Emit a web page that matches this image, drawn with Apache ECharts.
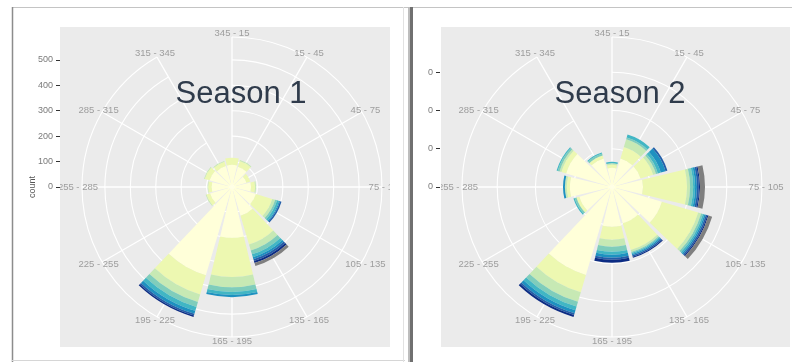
<!DOCTYPE html>
<html>
<head>
<meta charset="utf-8">
<script src="https://cdn.jsdelivr.net/npm/echarts@6/dist/echarts.min.js"></script>
<style>
  html, body { margin: 0; padding: 0; background: #ffffff; }
  #chart { width: 792px; height: 362px; }
</style>
</head>
<body>
<div id="chart"></div>
<script>
// Wind direction sectors, clockwise from north
const directions = ['345 - 15', '15 - 45', '45 - 75', '75 - 105', '105 - 135', '135 - 165',
                    '165 - 195', '195 - 225', '225 - 255', '255 - 285', '285 - 315', '315 - 345'];

// Speed classes (inner to outer) and their YlGnBu colours; the last class is missing speed
const speedClasses = ['0-2', '2-4', '4-6', '6-8', '8-10', '10-12', '12-14', '14+', 'NA'];
const speedColors = ['#ffffd9', '#edf8b1', '#c7e9b4', '#7fcdbb', '#41b6c4', '#1d91c0', '#225ea8', '#0c2c84', '#7f7f7f'];

// Season 1: counts per direction for each speed class
const season1Speed1 = [87, 83, 59, 75, 98, 118, 200, 362, 90, 80, 92, 86];
const season1Speed2 = [28, 24, 16, 16, 67, 118, 154, 79, 15, 14, 20, 18];
const season1Speed3 = [0, 4, 0, 4, 12, 24, 40, 31, 3, 2, 3, 3];
const season1Speed4 = [0, 0, 0, 0, 8, 16, 19, 20, 0, 0, 0, 0];
const season1Speed5 = [0, 0, 0, 0, 8, 12, 12, 16, 0, 0, 0, 0];
const season1Speed6 = [0, 0, 0, 0, 4, 8, 8, 12, 0, 0, 0, 0];
const season1Speed7 = [0, 0, 0, 0, 6, 8, 0, 7, 0, 0, 0, 0];
const season1Speed8 = [0, 0, 0, 0, 0, 8, 0, 6, 0, 0, 0, 0];
const season1Speed9 = [0, 0, 0, 0, 0, 12, 0, 0, 0, 0, 0, 0];

// Season 2: share of observations per direction for each speed class
const season2Speed1 = [0.050, 0.078, 0.078, 0.081, 0.136, 0.099, 0.104, 0.240, 0.089, 0.110, 0.125, 0.078];
const season2Speed2 = [0.008, 0.031, 0.034, 0.115, 0.099, 0.073, 0.034, 0.047, 0.008, 0.008, 0.013, 0.008];
const season2Speed3 = [0.004, 0.021, 0.008, 0.008, 0.008, 0.005, 0.018, 0.026, 0, 0.005, 0.005, 0];
const season2Speed4 = [0, 0.005, 0.005, 0.008, 0.005, 0.003, 0.013, 0.013, 0.005, 0, 0.005, 0.005];
const season2Speed5 = [0.004, 0.008, 0.008, 0.005, 0.004, 0.003, 0.008, 0.010, 0.003, 0, 0.003, 0.003];
const season2Speed6 = [0, 0, 0.013, 0.005, 0.004, 0.003, 0.008, 0.008, 0, 0.005, 0, 0];
const season2Speed7 = [0, 0, 0.005, 0.005, 0.004, 0.004, 0.005, 0.005, 0, 0, 0, 0];
const season2Speed8 = [0, 0, 0, 0.003, 0.003, 0.003, 0.008, 0.005, 0, 0, 0, 0];
const season2Speed9 = [0, 0, 0, 0.013, 0.010, 0, 0, 0, 0, 0, 0, 0];

// Radial tick values shown on the left of each panel
const season1Ticks = [0, 100, 200, 300, 400, 500];
const season2Ticks = [0, 0.1, 0.2, 0.3];

const panels = [
  {
    title: 'Season 1', center: [232, 187], radialMax: 590, ticks: season1Ticks,
    bins: [season1Speed1, season1Speed2, season1Speed3, season1Speed4, season1Speed5,
           season1Speed6, season1Speed7, season1Speed8, season1Speed9],
    panelBox: [60, 27, 330, 320], titleX: 241
  },
  {
    title: 'Season 2', center: [612, 187], radialMax: 0.392, ticks: season2Ticks,
    bins: [season2Speed1, season2Speed2, season2Speed3, season2Speed4, season2Speed5,
           season2Speed6, season2Speed7, season2Speed8, season2Speed9],
    panelBox: [440, 27, 350, 320], titleX: 620
  }
];

const RADIUS = 150;           // outer ring radius in px
const LABEL_RING = 1.027;     // direction labels sit just outside the outer ring
const FONT = 'Liberation Sans, Arial, sans-serif';

const chart = echarts.init(document.getElementById('chart'), null, { renderer: 'canvas' });

const polar = [], angleAxis = [], radiusAxis = [], grid = [], xAxis = [], yAxis = [], series = [];

panels.forEach((p, i) => {
  const step = p.ticks[1] - p.ticks[0];
  const tickMax = p.ticks[p.ticks.length - 1];

  polar.push({ center: p.center, radius: [0, RADIUS] });
  angleAxis.push({
    polarIndex: i, type: 'category', data: directions, boundaryGap: false,
    startAngle: 90, clockwise: true,
    axisLine: { show: false }, axisTick: { show: false }, axisLabel: { show: false },
    splitLine: { show: true, lineStyle: { color: '#ffffff', width: 1.3 } }
  });
  radiusAxis.push({
    polarIndex: i, type: 'value', min: 0, max: p.radialMax, interval: step,
    axisLine: { show: false }, axisTick: { show: false }, axisLabel: { show: false },
    splitLine: { show: true, lineStyle: { color: '#ffffff', width: 1.1 } }
  });

  // Left-hand radial scale: a plain value axis spanning centre to the last tick
  const h = RADIUS * tickMax / p.radialMax;
  grid.push({ left: p.panelBox[0], top: p.center[1] - h, height: h, width: 10 });
  xAxis.push({ gridIndex: i, type: 'value', show: false });
  yAxis.push({
    gridIndex: i, type: 'value', min: 0, max: tickMax, interval: step, z: 60,
    axisLine: { show: false },
    axisTick: { show: true, length: 4, lineStyle: { color: '#333333', width: 1 } },
    axisLabel: { show: true, margin: 7, color: '#7a7a7a', fontSize: 9, fontFamily: FONT,
                 formatter: v => v.toFixed(0) },
    splitLine: { show: false }
  });

  p.bins.forEach((vals, b) => {
    series.push({
      name: speedClasses[b], type: 'bar', coordinateSystem: 'polar', polarIndex: i,
      stack: 'season' + i, data: vals, barCategoryGap: '10%',
      itemStyle: { color: speedColors[b] }, silent: true
    });
  });

  // Direction labels centred just outside the outer ring
  series.push({
    type: 'scatter', coordinateSystem: 'polar', polarIndex: i, z: 5, silent: true, clip: false,
    data: directions.map((d, k) => [p.radialMax * LABEL_RING, k]),
    symbolSize: 1, itemStyle: { color: 'rgba(0,0,0,0)' },
    label: { show: true, position: 'inside', fontSize: 9.5, fontFamily: FONT, color: '#8a8a8a',
             formatter: prm => directions[prm.data[1]] }
  });
});

const graphic = [
  // panel backgrounds
  { type: 'rect', z: -10, shape: { x: 60, y: 27, width: 330, height: 320 }, style: { fill: '#ebebeb' } },
  { type: 'rect', z: -10, shape: { x: 440, y: 27, width: 350, height: 320 }, style: { fill: '#ebebeb' } },
  // masks clipping direction labels at the panel edges
  { type: 'rect', z: 50, shape: { x: 14, y: 9, width: 46, height: 350 }, style: { fill: '#ffffff' } },
  { type: 'rect', z: 50, shape: { x: 390, y: 9, width: 18, height: 350 }, style: { fill: '#ffffff' } },
  { type: 'rect', z: 50, shape: { x: 414, y: 9, width: 27, height: 350 }, style: { fill: '#ffffff' } },
  // window frames
  { type: 'line', z: 55, shape: { x1: 12, y1: 7.5, x2: 792, y2: 7.5 }, style: { stroke: '#c4c4c4', lineWidth: 1 } },
  { type: 'line', z: 55, shape: { x1: 12.5, y1: 7, x2: 12.5, y2: 362 }, style: { stroke: '#8c8c8c', lineWidth: 1.5 } },
  { type: 'line', z: 55, shape: { x1: 12, y1: 360.5, x2: 405, y2: 360.5 }, style: { stroke: '#d6d6d6', lineWidth: 1 } },
  { type: 'line', z: 55, shape: { x1: 403.5, y1: 7, x2: 403.5, y2: 362 }, style: { stroke: '#e2e2e2', lineWidth: 1 } },
  { type: 'line', z: 55, shape: { x1: 409, y1: 7, x2: 409, y2: 362 }, style: { stroke: '#bdbdbd', lineWidth: 2 } },
  { type: 'line', z: 55, shape: { x1: 411.5, y1: 7, x2: 411.5, y2: 362 }, style: { stroke: '#707070', lineWidth: 3 } },
  // axis title
  { type: 'text', z: 70, x: 33, y: 187, rotation: Math.PI / 2,
    style: { text: 'count', fontSize: 9, fontFamily: FONT, fill: '#555555', align: 'center', verticalAlign: 'middle' } }
];
panels.forEach(p => {
  graphic.push({ type: 'text', z: 70, x: p.titleX, y: 94,
    style: { text: p.title, fontSize: 31, fontFamily: FONT, fill: '#2f3b4b', align: 'center', verticalAlign: 'middle' } });
});

chart.setOption({
  animation: false,
  backgroundColor: '#ffffff',
  textStyle: { fontFamily: FONT },
  polar, angleAxis, radiusAxis, grid, xAxis, yAxis, series, graphic
});
</script>
</body>
</html>
